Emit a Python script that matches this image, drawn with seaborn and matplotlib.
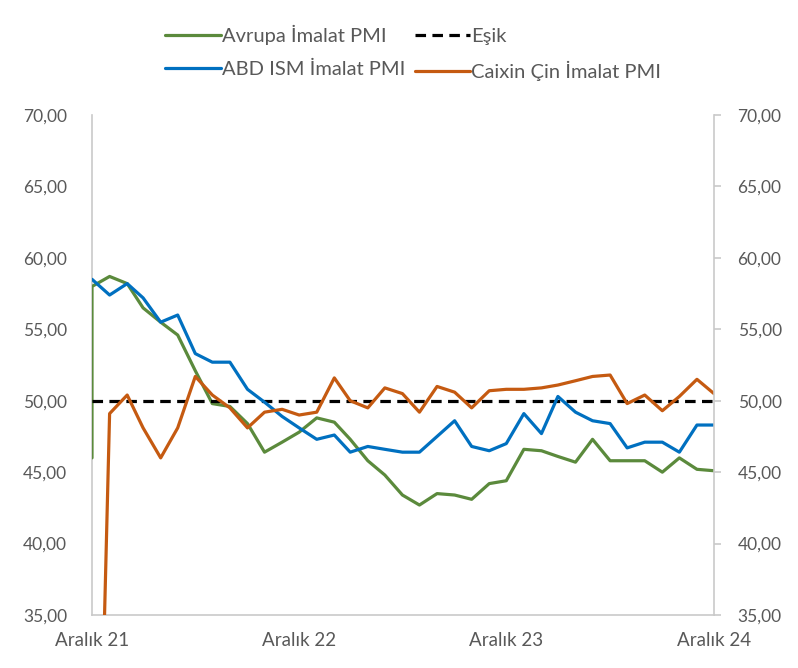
import numpy as np
import pandas as pd
import matplotlib
matplotlib.use('Agg')
import matplotlib.pyplot as plt
import seaborn as sns

# aylik veriler, Aralik 21 - Aralik 24
tarihler = pd.date_range('2021-12-01', '2024-12-01', freq='MS')

# Avrupa serisi ilk noktada dikey bir cizgiyle basliyor (ayni tarihte iki deger)
avrupa_baslangic = 46.0
avrupa = [58.0, 58.7, 58.2, 56.5, 55.5, 54.6, 52.1, 49.8, 49.6, 48.4, 46.4, 47.1,
          47.8, 48.8, 48.5, 47.3, 45.8, 44.8, 43.4, 42.7, 43.5, 43.4, 43.1, 44.2,
          44.4, 46.6, 46.5, 46.1, 45.7, 47.3, 45.8, 45.8, 45.8, 45.0, 46.0, 45.2, 45.1]

abd = [58.5, 57.4, 58.2, 57.2, 55.5, 56.0, 53.3, 52.7, 52.7, 50.8, 49.9, 48.9,
       48.1, 47.3, 47.6, 46.4, 46.8, 46.6, 46.4, 46.4, 47.5, 48.6, 46.8, 46.5,
       47.0, 49.1, 47.7, 50.3, 49.2, 48.6, 48.4, 46.7, 47.1, 47.1, 46.4, 48.3, 48.3]

# Aralik 21 degeri bos -> sifir olarak cizilmis
caixin = [0.0, 49.1, 50.4, 48.1, 46.0, 48.1, 51.7, 50.4, 49.5, 48.1, 49.2, 49.4,
          49.0, 49.2, 51.6, 50.0, 49.5, 50.9, 50.5, 49.2, 51.0, 50.6, 49.5, 50.7,
          50.8, 50.8, 50.9, 51.1, 51.4, 51.7, 51.8, 49.8, 50.4, 49.3, 50.3, 51.5, 50.5]

esik = 50.0

y_ticks = [35, 40, 45, 50, 55, 60, 65, 70]
x_etiket_tarih = ['2021-12-01', '2022-12-01', '2023-12-01', '2024-12-01']
x_etiketler = ['Aralık 21', 'Aralık 22', 'Aralık 23', 'Aralık 24']

yesil = '#5B8A3C'
mavi = '#0070C0'
turuncu = '#C55A11'
gri_yazi = '#595959'
gri_cizgi = '#C9C9C9'

sns.set_theme(style='white')
plt.rcParams['font.family'] = ['Lato', 'DejaVu Sans']

fig = plt.figure(figsize=(7.98, 6.68), dpi=100)
ax = fig.add_axes([0.1153, 0.0793, 0.7794, 0.7485])

df_avrupa = pd.DataFrame({'tarih': [tarihler[0]] + list(tarihler),
                          'deger': [avrupa_baslangic] + avrupa})
df_abd = pd.DataFrame({'tarih': tarihler, 'deger': abd})
df_caixin = pd.DataFrame({'tarih': tarihler, 'deger': caixin})

lw = 2.3
sns.lineplot(data=df_avrupa, x='tarih', y='deger', ax=ax, color=yesil, lw=lw,
             estimator=None, sort=False, label='Avrupa İmalat PMI', zorder=3)
ax.axhline(esik, color='black', lw=lw, dashes=(3.3, 2.0), label='Eşik', zorder=4)
sns.lineplot(data=df_abd, x='tarih', y='deger', ax=ax, color=mavi, lw=lw,
             estimator=None, sort=False, label='ABD ISM İmalat PMI', zorder=5)
sns.lineplot(data=df_caixin, x='tarih', y='deger', ax=ax, color=turuncu, lw=lw,
             estimator=None, sort=False, label='Caixin Çin İmalat PMI', zorder=6)

ax.set_xlim(tarihler[0], tarihler[-1])
ax.set_ylim(35, 70)
ax.set_yticks(y_ticks)
ax.set_yticklabels([f'{v:.2f}'.replace('.', ',') for v in y_ticks])
ax.set_xticks(pd.to_datetime(x_etiket_tarih))
ax.set_xticklabels(x_etiketler)
ax.set_xlabel('')
ax.set_ylabel('')

for s in ['top', 'right']:
    ax.spines[s].set_visible(False)
for s in ['left', 'bottom']:
    ax.spines[s].set_color(gri_cizgi)
    ax.spines[s].set_linewidth(1.2)
ax.tick_params(axis='both', length=0, labelcolor=gri_yazi)
ax.tick_params(axis='y', pad=18, labelsize=12.5)
ax.tick_params(axis='x', pad=12, labelsize=13.5)

# sag eksen
ax2 = ax.twinx()
ax2.set_ylim(35, 70)
ax2.set_yticks(y_ticks)
ax2.set_yticklabels([f'{v:.2f}'.replace('.', ',') for v in y_ticks])
for s in ['top', 'left', 'bottom']:
    ax2.spines[s].set_visible(False)
ax2.spines['right'].set_color(gri_cizgi)
ax2.spines['right'].set_linewidth(1.2)
ax2.tick_params(axis='y', length=5, width=1.2, color=gri_cizgi, direction='out',
                labelsize=12.5, labelcolor=gri_yazi, pad=12)

handles, labels = ax.get_legend_handles_labels()
ax.get_legend().remove()
sira = ['Avrupa İmalat PMI', 'ABD ISM İmalat PMI', 'Eşik', 'Caixin Çin İmalat PMI']
h = [handles[labels.index(s)] for s in sira]
fig.legend(h, sira, ncol=2, loc='upper center', bbox_to_anchor=(0.518, 0.99),
           frameon=False, fontsize=14.5, labelcolor=gri_yazi, handlelength=2.75,
           handletextpad=0.05, columnspacing=0.5, labelspacing=0.8)

fig.savefig('out.png', dpi=100)
